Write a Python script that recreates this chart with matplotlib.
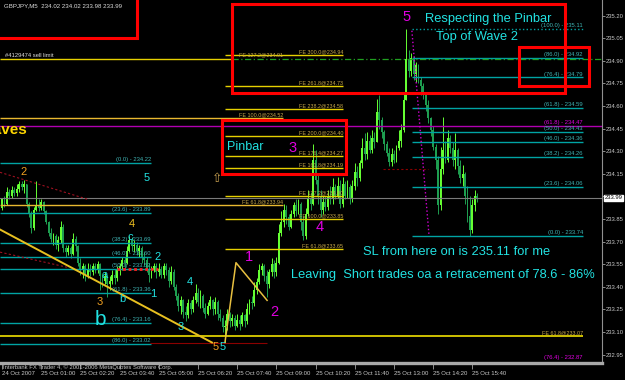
import numpy as np
import matplotlib.pyplot as plt
from matplotlib.patches import Rectangle
from matplotlib.transforms import blended_transform_factory

plt.rcParams['font.family'] = ['Liberation Sans', 'DejaVu Sans']

# GBPJPY M5, 24/25 Oct 2007 - prices
first_open = 233.92
closes = [
    233.98, 233.95, 234.03, 234.00, 234.04, 234.02, 234.05, 234.08, 234.06, 234.08,
    233.95, 233.88, 233.79, 233.91, 233.94, 233.92, 233.96, 233.90, 233.83, 233.76,
    233.72, 233.74, 233.68, 233.71, 233.80, 233.66, 233.63, 233.66, 233.62, 233.72,
    233.67, 233.56, 233.51, 233.54, 233.48, 233.52, 233.50, 233.54, 233.51, 233.55,
    233.47, 233.44, 233.47, 233.42, 233.44, 233.48, 233.46, 233.51, 233.54, 233.58,
    233.56, 233.64, 233.71, 233.67, 233.68, 233.64, 233.66, 233.60, 233.58, 233.52,
    233.48, 233.51, 233.54, 233.50, 233.52, 233.48, 233.54, 233.51, 233.44, 233.50,
    233.40, 233.34, 233.27, 233.31, 233.23, 233.21, 233.29, 233.25, 233.31, 233.36,
    233.30, 233.34, 233.26, 233.22, 233.27, 233.31, 233.25, 233.30, 233.22, 233.19,
    233.13, 233.14, 233.22, 233.17, 233.19, 233.14, 233.18, 233.15, 233.21, 233.17,
    233.25, 233.30, 233.29, 233.38, 233.43, 233.51, 233.54, 233.47, 233.42, 233.50,
    233.55, 233.50, 233.56, 233.76, 233.83, 233.91, 233.86, 233.80, 233.88, 233.94,
    233.90, 233.95, 233.83, 233.74, 233.88, 233.99, 233.95, 234.24, 234.11, 234.00,
    233.91, 233.96, 233.93, 234.00, 233.98, 234.06, 234.00, 234.07, 233.95, 234.08,
    234.00, 234.06, 233.98, 234.07, 234.16, 234.12, 234.22, 234.32, 234.28, 234.37,
    234.31, 234.39, 234.36, 234.56, 234.51, 234.43, 234.35, 234.29, 234.23, 234.28,
    234.24, 234.32, 234.37, 234.44, 234.64, 234.91, 234.83, 234.92, 234.81, 234.87,
    234.77, 234.73, 234.68, 234.61, 234.52, 234.44, 234.33, 234.24, 233.94, 234.18,
    234.31, 234.24, 234.39, 234.32, 234.24, 234.31, 234.20, 234.12, 234.15, 234.00,
    233.87, 233.78, 233.94, 234.00, 233.99,
]
highs = [
    233.99, 234.00, 234.06, 234.05, 234.07, 234.06, 234.08, 234.10, 234.10, 234.11,
    234.08, 233.96, 233.90, 233.93, 234.10, 233.98, 233.98, 233.97, 233.91, 233.84,
    233.79, 233.76, 233.75, 233.74, 233.84, 233.82, 233.68, 233.68, 233.67, 233.76,
    233.74, 233.68, 233.59, 233.56, 233.55, 233.56, 233.55, 233.56, 233.56, 233.57,
    233.56, 233.49, 233.50, 233.48, 233.47, 233.51, 233.52, 233.54, 233.56, 233.60,
    233.60, 233.67, 233.74, 233.73, 233.71, 233.70, 233.68, 233.67, 233.63, 233.60,
    233.56, 233.54, 233.56, 233.56, 233.56, 233.54, 233.56, 233.56, 233.53, 233.54,
    233.52, 233.42, 233.36, 233.34, 233.32, 233.27, 233.32, 233.31, 233.34, 233.42,
    233.39, 233.38, 233.35, 233.29, 233.30, 233.34, 233.32, 233.33, 233.31, 233.25,
    233.21, 233.18, 233.25, 233.23, 233.22, 233.21, 233.22, 233.21, 233.23, 233.22,
    233.29, 233.32, 233.34, 233.43, 233.46, 233.55, 233.56, 233.55, 233.51, 233.52,
    233.59, 233.58, 233.60, 233.82, 233.90, 233.95, 233.94, 233.88, 233.91, 233.96,
    233.98, 233.98, 233.96, 233.87, 233.92, 234.04, 234.03, 234.35, 234.31, 234.14,
    234.04, 234.00, 234.00, 234.04, 234.07, 234.12, 234.08, 234.13, 234.11, 234.13,
    234.10, 234.11, 234.08, 234.11, 234.22, 234.20, 234.24, 234.39, 234.42, 234.43,
    234.41, 234.44, 234.43, 234.65, 234.67, 234.53, 234.44, 234.37, 234.32, 234.32,
    234.31, 234.34, 234.44, 234.48, 234.69, 235.11, 234.97, 234.95, 234.93, 234.89,
    234.88, 234.79, 234.75, 234.69, 234.64, 234.53, 234.47, 234.35, 234.27, 234.33,
    234.53, 234.37, 234.44, 234.41, 234.36, 234.42, 234.32, 234.24, 234.21, 234.16,
    234.07, 234.00, 233.98, 234.04, 234.02,
]
lows = [
    233.91, 233.93, 233.94, 233.98, 233.99, 234.00, 234.00, 234.03, 234.04, 234.02,
    233.93, 233.86, 233.76, 233.78, 233.90, 233.90, 233.91, 233.88, 233.82, 233.74,
    233.70, 233.68, 233.65, 233.64, 233.69, 233.63, 233.60, 233.61, 233.59, 233.61,
    233.64, 233.54, 233.48, 233.46, 233.44, 233.46, 233.47, 233.48, 233.49, 233.49,
    233.38, 233.40, 233.42, 233.33, 233.38, 233.42, 233.42, 233.44, 233.48, 233.51,
    233.52, 233.55, 233.63, 233.64, 233.63, 233.61, 233.60, 233.56, 233.54, 233.50,
    233.43, 233.46, 233.50, 233.46, 233.47, 233.46, 233.46, 233.48, 233.40, 233.42,
    233.38, 233.31, 233.24, 233.22, 233.19, 233.17, 233.19, 233.22, 233.23, 233.29,
    233.27, 233.26, 233.23, 233.19, 233.21, 233.25, 233.21, 233.22, 233.18, 233.17,
    233.10, 233.03, 233.11, 233.13, 233.14, 233.11, 233.13, 233.11, 233.14, 233.13,
    233.15, 233.22, 233.25, 233.27, 233.35, 233.42, 233.48, 233.44, 233.33, 233.39,
    233.47, 233.46, 233.47, 233.55, 233.74, 233.80, 233.82, 233.78, 233.79, 233.86,
    233.87, 233.88, 233.78, 233.71, 233.72, 233.87, 233.91, 233.94, 234.08, 233.95,
    233.86, 233.88, 233.90, 233.91, 233.95, 233.95, 233.98, 233.99, 233.92, 233.93,
    233.98, 233.99, 233.95, 233.96, 234.04, 234.07, 234.10, 234.19, 234.24, 234.25,
    234.29, 234.29, 234.32, 234.36, 234.45, 234.39, 234.31, 234.27, 234.20, 234.20,
    234.22, 234.23, 234.31, 234.33, 234.43, 234.64, 234.79, 234.80, 234.77, 234.76,
    234.75, 234.67, 234.65, 234.57, 234.49, 234.40, 234.31, 234.18, 233.88, 233.91,
    234.15, 234.22, 234.23, 234.29, 234.20, 234.18, 234.15, 234.09, 234.07, 233.95,
    233.83, 233.74, 233.76, 233.90, 233.96,
]

time_ticks = [0, 16, 32, 48, 64, 80, 96, 112, 128, 144, 160, 176, 192]
time_labels = ['24 Oct 2007', '25 Oct 01:00', '25 Oct 02:20', '25 Oct 03:40', '25 Oct 05:00',
               '25 Oct 06:20', '25 Oct 07:40', '25 Oct 09:00', '25 Oct 10:20', '25 Oct 11:40',
               '25 Oct 13:00', '25 Oct 14:20', '25 Oct 15:40']
price_ticks = [235.20, 235.05, 234.90, 234.75, 234.60, 234.45, 234.30, 234.15, 234.00,
               233.85, 233.70, 233.55, 233.40, 233.25, 233.10, 232.95]
bid = 233.99

left_fib_names = ['(0.0)', '(23.6)', '(38.2)', '(46.0)', '(50.0)', '(61.8)', '(76.4)', '(86.0)']
left_fib_levels = [234.22, 233.89, 233.69, 233.60, 233.52, 233.36, 233.16, 233.02]
right_fib_names = ['(0.0)', '(23.6)', '(38.2)', '(46.0)', '(50.0)', '(61.8)', '(76.4)', '(86.0)', '(100.0)']
right_fib_levels = [233.74, 234.06, 234.26, 234.36, 234.43, 234.59, 234.79, 234.92, 235.11]
fe_names = ['61.8', '100.0', '127.2', '161.8', '176.4', '200.0', '238.2', '261.8', '300.0']
fe_levels = [233.65, 233.85, 234.00, 234.19, 234.27, 234.40, 234.58, 234.73, 234.94]
fe2_names = ['61.8', '100.0']
fe2_levels = [233.94, 234.52]
sell_limit = 234.91
fe3_level = 233.07
pivot_level = 234.47

teal = '#00a3a3'
teal_txt = '#3fb3b3'
fe_col = '#e6d000'
fe_txt = '#c8a84a'
cyan = '#22e2e2'
magenta = '#e000e0'
orange = '#f0a020'

fig = plt.figure(figsize=(6.25, 3.8), dpi=100, facecolor='black')
ax = fig.add_axes([0, 17 / 380, 602 / 625, 363 / 380], facecolor='black')
ax.set_xlim(-0.82, 244.9)
ax.set_ylim(232.894, 235.304)

# свечи
o = np.array([first_open] + closes[:-1])
c = np.array(closes)
h = np.array(highs)
l = np.array(lows)
idx = np.arange(len(c))
cols = np.where(c >= o, '#66ff33', '#1e9e50')
ax.vlines(idx, np.minimum(l, np.minimum(o, c)), np.maximum(h, np.maximum(o, c)),
          colors=cols, lw=0.7, zorder=2)
ax.bar(idx, np.maximum(np.abs(c - o), 0.004), bottom=np.minimum(o, c), width=0.75,
       color=cols, linewidth=0, zorder=2)

# линия bid
ax.axhline(bid, color='#7a7a7a', lw=0.8, zorder=3)

# фибо слева
for name, lev in zip(left_fib_names, left_fib_levels):
    ax.hlines(lev, -1, 60.8, color=teal, lw=1, zorder=3)
    ax.text(60.8, lev + 0.006, f'{name} - {lev:.2f}', ha='right', va='bottom',
            fontsize=4.2, color=teal_txt, zorder=4)
ax.hlines(left_fib_levels[4], 47, 63.7, color='#ff2020', lw=2, ls=(0, (1, 1)), zorder=4)
ax.hlines(233.03, 60.4, 108.2, color='#8b0000', lw=0.8, zorder=3)

# фибо справа
for name, lev in zip(right_fib_names, right_fib_levels):
    ax.hlines(lev, 167.3, 237.1, color=teal, lw=1, zorder=3,
              ls=':' if name == '(100.0)' else '-')
    ax.text(237.1, lev + 0.006, f'{name} - {lev:.2f}', ha='right', va='bottom',
            fontsize=4.2, color=teal_txt, zorder=4)

# пивот (пурпурная линия)
ax.axhline(pivot_level, color='#b000b0', lw=1, zorder=3)
ax.text(237.1, pivot_level + 0.006, f'(61.8) - {pivot_level:.2f}', ha='right', va='bottom',
        fontsize=4.2, color=magenta, zorder=4)
ax.text(237.1, 232.93, '(76.4) - 232.87', ha='right', va='center',
        fontsize=4.2, color=magenta, zorder=4)

# расширения FE
for name, lev in zip(fe_names, fe_levels):
    ax.hlines(lev, 91.0, 139.2, color=fe_col, lw=1, zorder=3)
    ax.text(139.2, lev + 0.006, f'FE {name}@{lev:.2f}', ha='right', va='bottom',
            fontsize=3.9, color=fe_txt, zorder=4)
for name, lev in zip(fe2_names, fe2_levels):
    ax.hlines(lev, -1, 114.7, color='#e8b830', lw=1, zorder=3)
    ax.text(114.7, lev + 0.006, f'FE {name}@{lev:.2f}', ha='right', va='bottom',
            fontsize=3.9, color=fe_txt, zorder=4)
ax.hlines(sell_limit, -1, 94, color=fe_col, lw=1, zorder=3)
ax.hlines(sell_limit, 94, 245, color='#20a020', lw=0.9, ls=(0, (5, 2, 1, 2)), zorder=3)
ax.text(114.7, sell_limit + 0.012, f'FE 127.2@{sell_limit:.2f}', ha='right', va='bottom',
        fontsize=3.9, color=fe_txt, zorder=4)
ax.text(1.2, sell_limit + 0.012, '#4129474 sell limit', ha='left', va='bottom',
        fontsize=4.2, color='#dddddd', zorder=4)
ax.hlines(fe3_level, -1, 237.1, color='#f0e000', lw=1.2, zorder=3)
ax.text(237.1, fe3_level + 0.006, f'FE 61.8@{fe3_level:.2f}', ha='right', va='bottom',
        fontsize=3.9, color=fe_txt, zorder=4)

# трендовые линии
ax.plot([-0.8, 85.7], [233.78, 233.03], color='#e8c020', lw=1.4, zorder=3)
ax.plot([91.0, 95.5, 108.2], [233.03, 233.56, 233.31], color='#e8c040', lw=1.1, zorder=3)
ax.plot([-0.8, 35.1], [234.16, 233.98], color='#a01020', lw=0.8, ls=(0, (2, 2)), zorder=3)
ax.plot([-0.8, 26.5], [233.63, 233.53], color='#a01020', lw=0.8, ls=(0, (2, 2)), zorder=3)
ax.plot([155.5, 173.9], [234.18, 234.18], color='#8b0000', lw=0.8, ls=(0, (2, 2)), zorder=3)
ax.plot([167.3, 174.3], [235.10, 233.74], color='#d000d0', lw=1, ls=':', zorder=3)

# красные рамки
for x0, x1, y0, y1 in [(-5, 55.1, 235.052, 235.6), (93.9, 229.8, 234.687, 235.277),
                       (211.0, 239.6, 234.733, 234.992), (89.8, 140.4, 234.149, 234.507)]:
    ax.add_patch(Rectangle((x0, y0), x1 - x0, y1 - y0, fill=False, ec='#ff0000',
                           lw=2.2, zorder=5))

# надписи
ax.text(10.6, 234.44, 'Waves', ha='right', va='center', fontsize=11, fontweight='bold',
        color='#ffd700', zorder=6)
ax.text(198.4, 235.18, 'Respecting the Pinbar', ha='center', va='center', fontsize=9.3,
        color=cyan, zorder=6)
ax.text(193.9, 235.06, 'Top of Wave 2', ha='center', va='center', fontsize=9.3,
        color=cyan, zorder=6)
ax.text(99.2, 234.33, 'Pinbar', ha='center', va='center', fontsize=9, color=cyan, zorder=6)
ax.text(147.3, 233.63, 'SL from here on is 235.11 for me', ha='left', va='center',
        fontsize=9.3, color=cyan, zorder=6)
ax.text(118.0, 233.48, 'Leaving  Short trades oa a retracement of 78.6 - 86%', ha='left',
        va='center', fontsize=9.3, color=cyan, zorder=6)

for x, y, s in [(165.3, 235.19, '5'), (118.4, 234.32, '3'), (129.8, 233.80, '4'),
                (100.8, 233.60, '1'), (111.0, 233.23, '2')]:
    ax.text(x, y, s, ha='center', va='center', fontsize=10.5, color=magenta, zorder=6)

for x, y, s, col in [(8.6, 234.16, '2', orange), (59.2, 234.12, '5', cyan),
                     (53.1, 233.82, '4', '#f0c020'), (52.2, 233.73, 'c', cyan),
                     (63.3, 233.60, '2', cyan), (42.0, 233.48, 'a', cyan),
                     (61.8, 233.35, '1', cyan), (40.0, 233.30, '3', orange),
                     (49.0, 233.32, 'b', cyan), (76.7, 233.43, '4', cyan),
                     (73.1, 233.13, '3', cyan), (87.2, 233.00, '5', orange),
                     (90.0, 233.00, '5', cyan)]:
    ax.text(x, y, s, ha='center', va='center', fontsize=8, color=col, zorder=6)
ax.text(40.0, 233.18, 'b', ha='center', va='center', fontsize=15, color=cyan, zorder=6)
ax.text(87.8, 234.12, '\u21e7', ha='center', va='center', fontsize=9, color='#c8a050',
        family='DejaVu Sans', zorder=6)

ax.text(4 / 602, 1 - 3 / 363, 'GBPJPY,M5  234.02 234.02 233.98 233.99', transform=ax.transAxes,
        ha='left', va='top', fontsize=4.4, color='#dddddd')

# оси
for s in ['top', 'left']:
    ax.spines[s].set_visible(False)
ax.spines['bottom'].set_color('#a8a8a8')
ax.spines['bottom'].set_linewidth(2.4)
ax.spines['right'].set_color('#909090')
ax.spines['right'].set_linewidth(0.8)

ax.set_xticks(time_ticks)
ax.set_xticklabels(time_labels)
for lbl in ax.get_xticklabels():
    lbl.set_horizontalalignment('left')
ax.tick_params(axis='x', direction='out', length=4.5, width=0.6, color='#a0a0a0',
               labelsize=4.3, labelcolor='#c8c8c8', pad=1.5)

ax.yaxis.tick_right()
ax.set_yticks(price_ticks)
ax.set_yticklabels(['' if abs(p - 234.00) < 1e-6 else f'{p:.2f}' for p in price_ticks])
ax.tick_params(axis='y', direction='out', length=2, width=0.6, color='#a0a0a0',
               labelsize=4.2, labelcolor='#c8c8c8', pad=0.8)
ax.text(1.004, bid, f'{bid:.2f}', transform=blended_transform_factory(ax.transAxes, ax.transData),
        ha='left', va='center', fontsize=4.2, color='black',
        bbox=dict(boxstyle='square,pad=0.1', fc='white', ec='white'), clip_on=False)

fig.text(3 / 625, 1 - 367 / 380, 'Interbank FX Trader 4, \u00a9 2001-2006 MetaQuotes Software Corp.',
         ha='left', va='center', fontsize=4.2, color='#c8c8c8')

fig.savefig('out.png', dpi=100, facecolor='black')
